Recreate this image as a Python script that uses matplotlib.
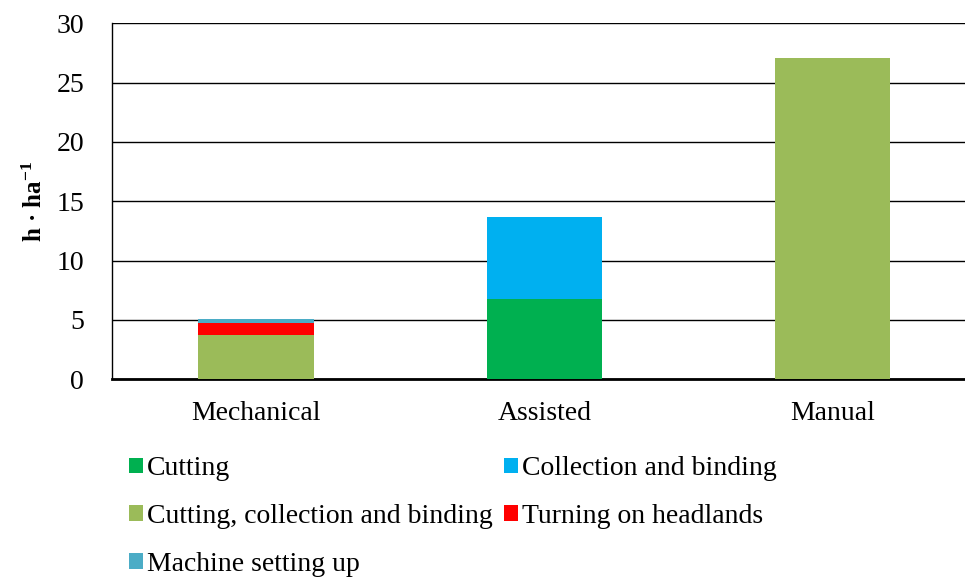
import matplotlib.pyplot as plt
import numpy as np

plt.rcParams['font.family'] = ['Liberation Serif', 'DejaVu Serif']
plt.rcParams['mathtext.default'] = 'regular'

categories = ['Mechanical', 'Assisted', 'Manual']
series_names = ['Cutting', 'Collection and binding', 'Cutting, collection and binding',
                'Turning on headlands', 'Machine setting up']
cutting = [0, 6.75, 0]
collection = [0, 6.9, 0]
cut_coll_bind = [3.7, 0, 27.05]
turning = [1.0, 0, 0]
machine_setup = [0.35, 0, 0]
colors = ['#00B050', '#00B0F0', '#9BBB59', '#FF0000', '#4BACC6']

# stacking order from bottom: combined work, cutting, collection, turning, setting up
stack = [
    (cut_coll_bind, 2),
    (cutting, 0),
    (collection, 1),
    (turning, 3),
    (machine_setup, 4),
]

fig = plt.figure(figsize=(9.65, 5.79), dpi=100)
ax = fig.add_axes([0.116, 0.345, 0.896, 0.615])

x = np.arange(len(categories))
bottom = np.zeros(len(categories))
handles = {}
for vals, idx in stack:
    vals = np.array(vals, dtype=float)
    b = ax.bar(x, vals, width=0.4, bottom=bottom, color=colors[idx],
               label=series_names[idx], zorder=3)
    handles[idx] = b
    bottom += vals

ax.set_xlim(-0.5, 2.5)
ax.set_ylim(0, 30)
ax.set_yticks(range(0, 31, 5))
ax.yaxis.grid(True, color='black', linewidth=1)
ax.set_axisbelow(True)
ax.set_xticks(x)
ax.set_xticklabels(categories, fontsize=20)
ax.tick_params(axis='y', labelsize=20, length=0, pad=20)
ax.tick_params(axis='x', length=0, pad=16)
for s in ['top', 'right']:
    ax.spines[s].set_visible(False)
ax.spines['left'].set_linewidth(1)
ax.spines['bottom'].set_linewidth(2)
ax.set_ylabel('h · ha$^{-1}$', fontsize=18, fontweight='bold', labelpad=7)

# legend in two columns (column-major fill)
order = [0, 2, 4, 1, 3]
fig.legend([handles[i] for i in order], [series_names[i] for i in order],
           loc='upper left', bbox_to_anchor=(0.122, 0.231), ncol=2, frameon=False,
           fontsize=20, handlelength=0.5, handleheight=0.5, handletextpad=0.15,
           columnspacing=0.4, labelspacing=0.82, borderaxespad=0)

plt.savefig('out.png', dpi=100)
